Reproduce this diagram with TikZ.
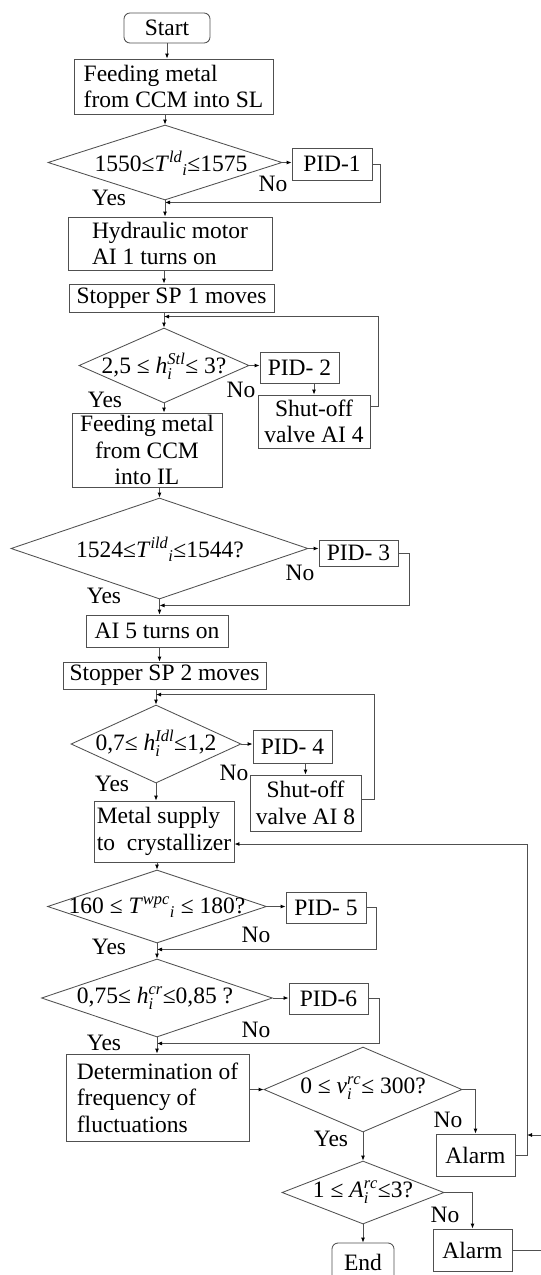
\documentclass[tikz,border=0pt]{standalone}
\usepackage{fontspec}
\setmainfont{Liberation Serif}
\usetikzlibrary{arrows.meta,shapes.geometric,calc}
\definecolor{lc}{RGB}{80,80,80}
\begin{document}
\begin{tikzpicture}[x=1pt,y=-1pt,
  font=\fontsize{23.5}{26.5}\selectfont,
  box/.style={draw=lc, line width=0.85pt, inner sep=0pt, align=center},
  rbox/.style={box, rounded corners=6pt},
  dia/.style={draw=lc, line width=0.85pt, diamond, inner sep=0pt},
  txt/.style={inner sep=0pt},
  conn/.style={draw=lc, line width=0.85pt},
  arr/.style={conn, -{Latex[length=5pt,width=4pt,color=black]}}]
\useasboundingbox (0,0) rectangle (541,1275);
\clip (0,0) rectangle (541,1275);
% ---------- nodes ----------
\node[rbox, minimum width=86pt, minimum height=30pt] (start) at (167,28) {Start};
\node[box, align=left, minimum width=199pt, minimum height=55pt] (feed1) at (173.5,86.5) {Feeding metal\\from CCM into SL};
\node[dia, minimum width=234pt, minimum height=75pt] (d1) at (165,162.5) {};
\node[txt] at (171,163) {1550≤\textit{T}$^{\mathit{ld}}{}_{\mathit{i}}$≤1575};
\node[box, minimum width=80pt, minimum height=32pt] (pid1) at (332,164) {PID-1};
\node[box, align=left, minimum width=204pt, minimum height=53pt] (hyd) at (170,243.5) {Hydraulic motor\\AI 1 turns on};
\node[box, minimum width=205pt, minimum height=28pt] (sp1) at (171.5,298) {Stopper SP 1 moves};
\node[dia, minimum width=170pt, minimum height=75pt] (d2) at (164,365.5) {};
\node[txt] at (164,366) {2,5 ≤ \textit{h}$^{\mathit{Stl}}_{\mathit{i}}$≤ 3?};
\node[box, minimum width=79pt, minimum height=31pt] (pid2) at (299.5,367.5) {PID- 2};
\node[box, minimum width=112pt, minimum height=53pt] (shut1) at (314,421.5) {Shut-off\\valve AI 4};
\node[box, minimum width=150pt, minimum height=74pt] (feed2) at (147,450) {Feeding metal\\from CCM\\into IL};
\node[dia, minimum width=297pt, minimum height=101pt] (d3) at (159.5,548.5) {};
\node[txt] at (160,549) {1524≤\textit{T}$^{\mathit{ild}}{}_{\mathit{i}}$≤1544?};
\node[box, minimum width=79pt, minimum height=26pt] (pid3) at (358.5,553) {PID- 3};
\node[box, minimum width=142pt, minimum height=32pt] (ai5) at (157,631) {AI 5 turns on};
\node[box, minimum width=203pt, minimum height=27pt] (sp2) at (164.5,675.5) {Stopper SP 2 moves};
\node[dia, minimum width=170pt, minimum height=78pt] (d4) at (156,744) {};
\node[txt] at (156,743) {0,7≤ \textit{h}$^{\mathit{Idl}}_{\mathit{i}}$≤1,2};
\node[box, minimum width=79pt, minimum height=33pt] (pid4) at (292.5,746.5) {PID- 4};
\node[box, minimum width=111pt, minimum height=56pt] (shut2) at (305.5,803) {Shut-off\\valve AI 8};
\node[box, align=left, minimum width=140pt, minimum height=61pt] (metal) at (164,831.5) {Metal supply\\to\ \ crystallizer};
\node[dia, minimum width=219pt, minimum height=73pt] (d5) at (157,906.5) {};
\node[txt] at (157,907) {160 ≤ \textit{T}$^{\mathit{wpc}}{}_{\mathit{i}}$ ≤ 180?};
\node[box, minimum width=80pt, minimum height=31pt] (pid5) at (326,907.5) {PID- 5};
\node[dia, minimum width=231pt, minimum height=78pt] (d6) at (157,998) {};
\node[txt] at (155,998) {0,75≤ \textit{h}$^{\mathit{cr}}_{\mathit{i}}$≤0,85 ?};
\node[box, minimum width=79pt, minimum height=31pt] (pid6) at (328.5,998.5) {PID-6};
\node[box, align=left, minimum width=183pt, minimum height=87pt] (det) at (157.5,1097.5) {Determination of\\frequency of\\fluctuations};
\node[dia, minimum width=198pt, minimum height=85pt] (d7) at (363,1089.5) {};
\node[txt] at (363,1088) {0 ≤ \textit{ν}$^{\mathit{rc}}_{\mathit{i}}$≤ 300?};
\node[box, minimum width=79pt, minimum height=42pt] (alarm1) at (475.5,1155) {Alarm};
\node[dia, minimum width=162pt, minimum height=63pt] (d8) at (363,1192.5) {};
\node[txt] at (363,1192) {1 ≤ \textit{A}$^{\mathit{rc}}_{\mathit{i}}$≤3?};
\node[box, minimum width=79pt, minimum height=42pt] (alarm2) at (472.5,1250) {Alarm};
\node[rbox, minimum width=62pt, minimum height=38pt] (end) at (363,1262) {End};
% ---------- labels ----------
\node[txt] at (273,184) {No};   \node[txt] at (109,198) {Yes};
\node[txt] at (241,390) {No};   \node[txt] at (105,400) {Yes};
\node[txt] at (300,573) {No};   \node[txt] at (104,596) {Yes};
\node[txt] at (234,773) {No};   \node[txt] at (112,784) {Yes};
\node[txt] at (256,935) {No};   \node[txt] at (109,947) {Yes};
\node[txt] at (256,1030) {No};  \node[txt] at (104,1043) {Yes};
\node[txt] at (448,1120) {No};  \node[txt] at (331,1139) {Yes};
\node[txt] at (445,1215) {No};
% ---------- helper coordinates ----------
\coordinate (m1) at ($(d1.south)+(0,2)$);
\coordinate (m2) at ($(d2.north)+(0,-11)$);
\coordinate (m3) at ($(d3.south)+(0,6)$);
\coordinate (m4) at ($(d4.north)+(0,-10)$);
\coordinate (m5) at ($(d5.south)+(0,6)$);
\coordinate (m6) at ($(d6.south)+(0,6)$);
\coordinate (rj) at (527,1135);
\coordinate (rin) at (541,1135);
\coordinate (rout) at (541,1250);
% ---------- connectors ----------
\draw[arr] (start.south) -- (start.south |- feed1.north);
\draw[arr] (d1.north |- feed1.south) -- (d1.north);
\draw[arr] (d1.east) -- (d1.east -| pid1.west);
\draw[arr] (pid1.east) -- ++(8,0) |- (m1);
\draw[arr] (d1.south) -- (d1.south |- hyd.north);
\draw[arr] (d2.north |- hyd.south) -- (d2.north |- sp1.north);
\draw[arr] (d2.north |- sp1.south) -- (d2.north);
\draw[arr] (d2.east) -- (d2.east -| pid2.west);
\draw[arr] (shut1.north |- pid2.south) -- (shut1.north);
\draw[arr] ($(shut1.north east)+(0,12)$) -- ++(8,0) |- (m2);
\draw[arr] (d2.south) -- (d2.south |- feed2.north);
\draw[arr] (d3.north |- feed2.south) -- (d3.north);
\draw[arr] (d3.east) -- (d3.east -| pid3.west);
\draw[arr] (pid3.east) -- ++(11,0) |- (m3);
\draw[arr] (d3.south) -- (d3.south |- ai5.north);
\draw[arr] (d3.south |- ai5.south) -- (d3.south |- sp2.north);
\draw[arr] (d4.north |- sp2.south) -- (d4.north);
\draw[arr] (d4.east) -- (d4.east -| pid4.west);
\draw[arr] (shut2.north |- pid4.south) -- (shut2.north);
\draw[arr] ($(shut2.north east)+(0,25)$) -- ++(13,0) |- (m4);
\draw[arr] (d4.south) -- (d4.south |- metal.north);
\draw[arr] (d5.north |- metal.south) -- (d5.north);
\draw[arr] (d5.east) -- (d5.east -| pid5.west);
\draw[arr] (pid5.east) -- ++(10,0) |- (m5);
\draw[arr] (d5.south) -- (d6.north);
\draw[arr] (d6.east) -- (d6.east -| pid6.west);
\draw[arr] (pid6.east) -- ++(11,0) |- (m6);
\draw[arr] (d6.south) -- (d6.south |- det.north);
\draw[arr] (d7.west -| det.east) -- (d7.west);
\draw[arr] (d7.east) -| (alarm1.north);
\draw[arr] (d7.south) -- (d8.north);
\draw[arr] (d8.east) -| (alarm2.north);
\draw[arr] (d8.south) -- (end.north);
\draw[arr] (alarm1.east) -- ++(12,0) |- ($(metal.east)+(0,12.5)$);
\draw[arr] (rin) -- (rj);
\draw[conn] (alarm2.east) -- (rout);
\end{tikzpicture}
\end{document}
